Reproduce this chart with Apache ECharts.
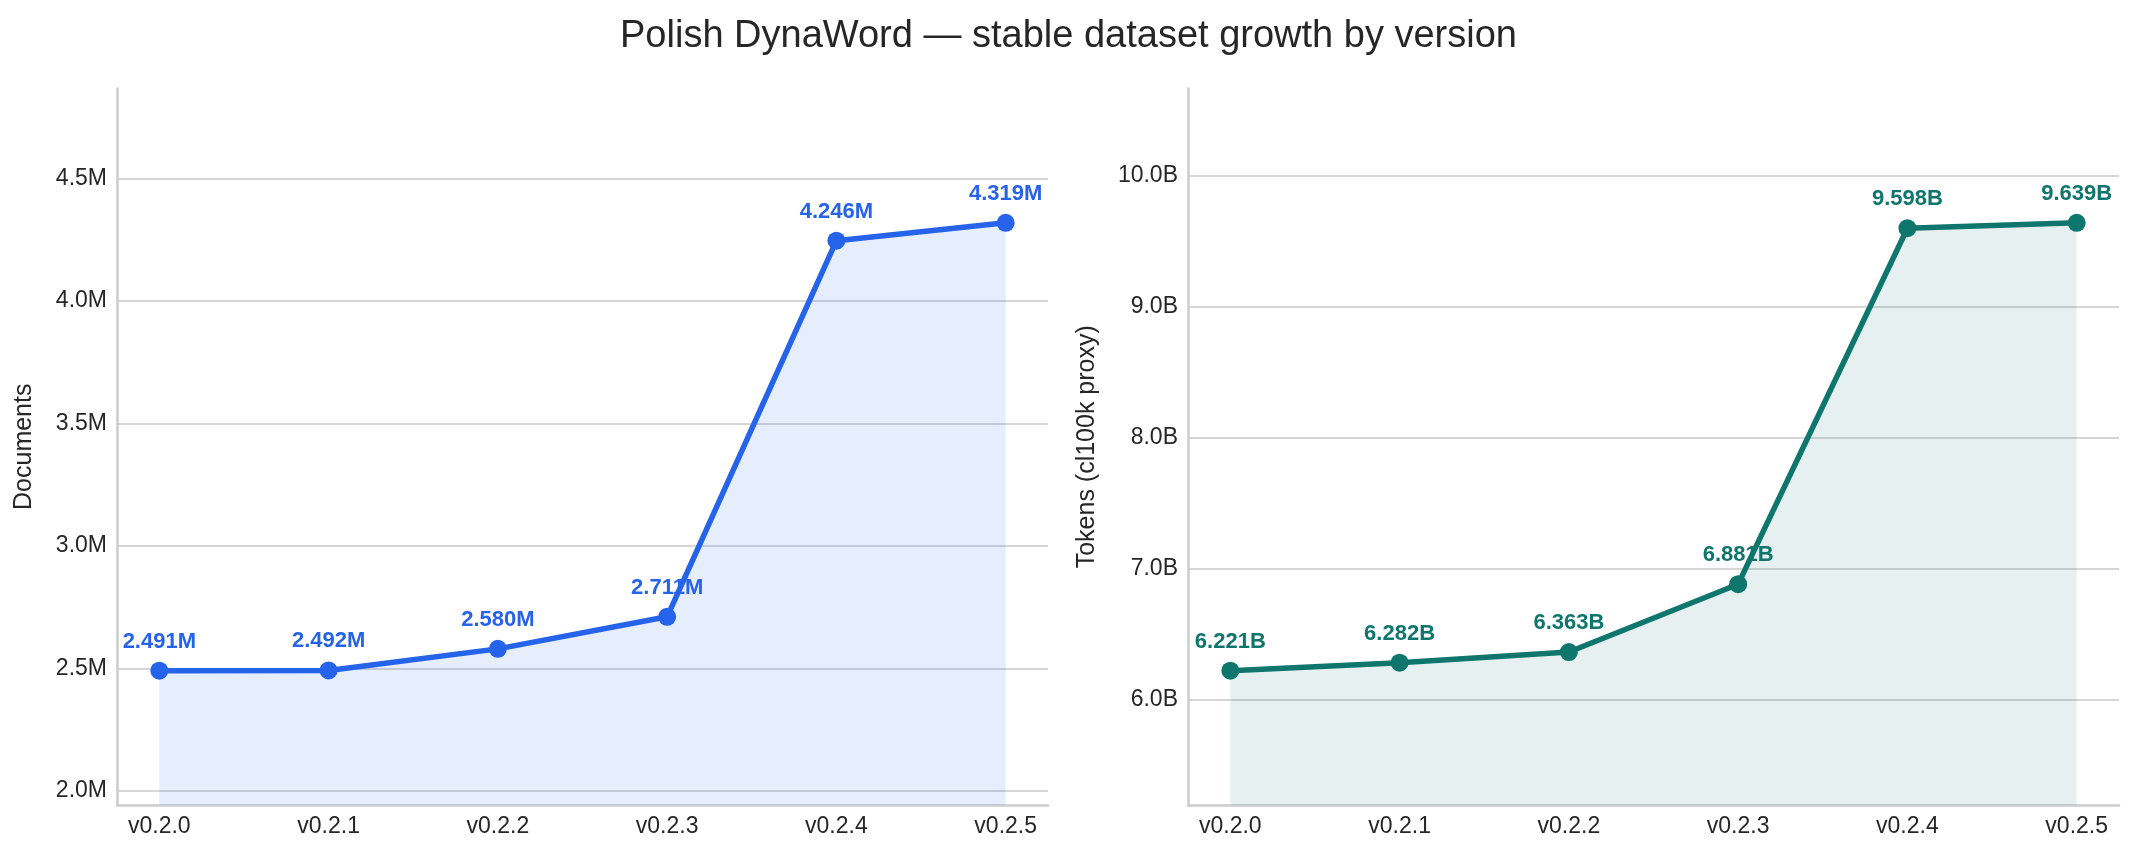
<!DOCTYPE html>
<html>
<head>
<meta charset="utf-8">
<title>Polish DynaWord</title>
<script src="https://cdn.jsdelivr.net/npm/echarts@6/dist/echarts.min.js"></script>
<style>
  html, body { margin: 0; padding: 0; background: #fff; }
  #main { width: 2137px; height: 855px; }
</style>
</head>
<body>
<div id="main"></div>
<script>
// versions on the x axis
var versions = ['v0.2.0', 'v0.2.1', 'v0.2.2', 'v0.2.3', 'v0.2.4', 'v0.2.5'];
// documents, in millions
var documents = [2.491, 2.492, 2.580, 2.711, 4.246, 4.319];
// tokens (cl100k proxy), in billions
var tokens = [6.221, 6.282, 6.363, 6.881, 9.598, 9.639];
// y tick labels
var docTicks = [2.0, 2.5, 3.0, 3.5, 4.0, 4.5];
var tokTicks = [6.0, 7.0, 8.0, 9.0, 10.0];
var xTicks = [0, 1, 2, 3, 4, 5];

var blue = '#2563eb';
var teal = '#0f766e';
var font = 'Liberation Sans, Arial, sans-serif';

// same padding as the original plot: 30% of the data range on each side
function padRange(arr) {
    var lo = Math.min.apply(null, arr), hi = Math.max.apply(null, arr);
    var r = hi - lo;
    return [lo - 0.3 * r, hi + 0.3 * r];
}

function pairs(vals) {
    return vals.map(function (v, i) { return [i, v]; });
}

var docRange = padRange(documents);
var tokRange = padRange(tokens);

function xAxisFor(gridIndex) {
    return {
        type: 'value',
        gridIndex: gridIndex,
        min: -0.25,
        max: 5.25,
        axisLine: { show: true, onZero: false, lineStyle: { color: '#cccccc', width: 2.5 } },
        axisTick: { show: false, customValues: xTicks },
        splitLine: { show: false },
        axisLabel: {
            customValues: xTicks,
            color: '#262626',
            fontSize: 23,
            fontFamily: font,
            margin: 10,
            formatter: function (v) { return versions[Math.round(v)]; }
        }
    };
}

function yAxisFor(gridIndex, range, ticks, name, unit, gap) {
    return {
        type: 'value',
        gridIndex: gridIndex,
        min: range[0],
        max: range[1],
        name: name,
        nameLocation: 'middle',
        nameGap: gap,
        nameRotate: 90,
        nameTextStyle: { color: '#262626', fontSize: 25, fontFamily: font },
        axisLine: { show: true, onZero: false, lineStyle: { color: '#cccccc', width: 2.5 } },
        axisTick: { show: false, customValues: ticks },
        splitLine: { show: true, lineStyle: { color: '#c8c8c8', width: 1.6 } },
        axisLabel: {
            customValues: ticks,
            color: '#262626',
            fontSize: 23,
            fontFamily: font,
            margin: 10,
            formatter: function (v) { return v.toFixed(1) + unit; }
        }
    };
}

function lineSeries(idx, vals, color, fill, unit) {
    return {
        type: 'line',
        xAxisIndex: idx,
        yAxisIndex: idx,
        data: pairs(vals),
        symbol: 'circle',
        symbolSize: 18,
        lineStyle: { color: color, width: 5.5 },
        itemStyle: { color: color },
        areaStyle: { color: fill, origin: 'start' },
        label: {
            show: true,
            position: 'top',
            distance: 9,
            color: color,
            fontSize: 22,
            fontWeight: 'bold',
            fontFamily: font,
            formatter: function (p) { return p.value[1].toFixed(3) + unit; }
        },
        z: 3
    };
}

var myChart = echarts.init(document.getElementById('main'));

var option = {
    animation: false,
    backgroundColor: '#ffffff',
    title: {
        text: 'Polish DynaWord \u2014 stable dataset growth by version',
        left: 'center',
        top: 13,
        textStyle: { color: '#262626', fontSize: 38, fontWeight: 'normal', fontFamily: font }
    },
    grid: [
        { left: 117, width: 931, top: 88.5, height: 716.5 },
        { left: 1188, width: 931, top: 88.5, height: 716.5 }
    ],
    xAxis: [xAxisFor(0), xAxisFor(1)],
    yAxis: [
        yAxisFor(0, docRange, docTicks, 'Documents', 'M', 80),
        yAxisFor(1, tokRange, tokTicks, 'Tokens (cl100k proxy)', 'B', 88)
    ],
    series: [
        lineSeries(0, documents, blue, 'rgba(37,99,235,0.16)', 'M'),
        lineSeries(1, tokens, teal, 'rgba(15,118,110,0.15)', 'B')
    ]
};

myChart.setOption(option);
</script>
</body>
</html>
